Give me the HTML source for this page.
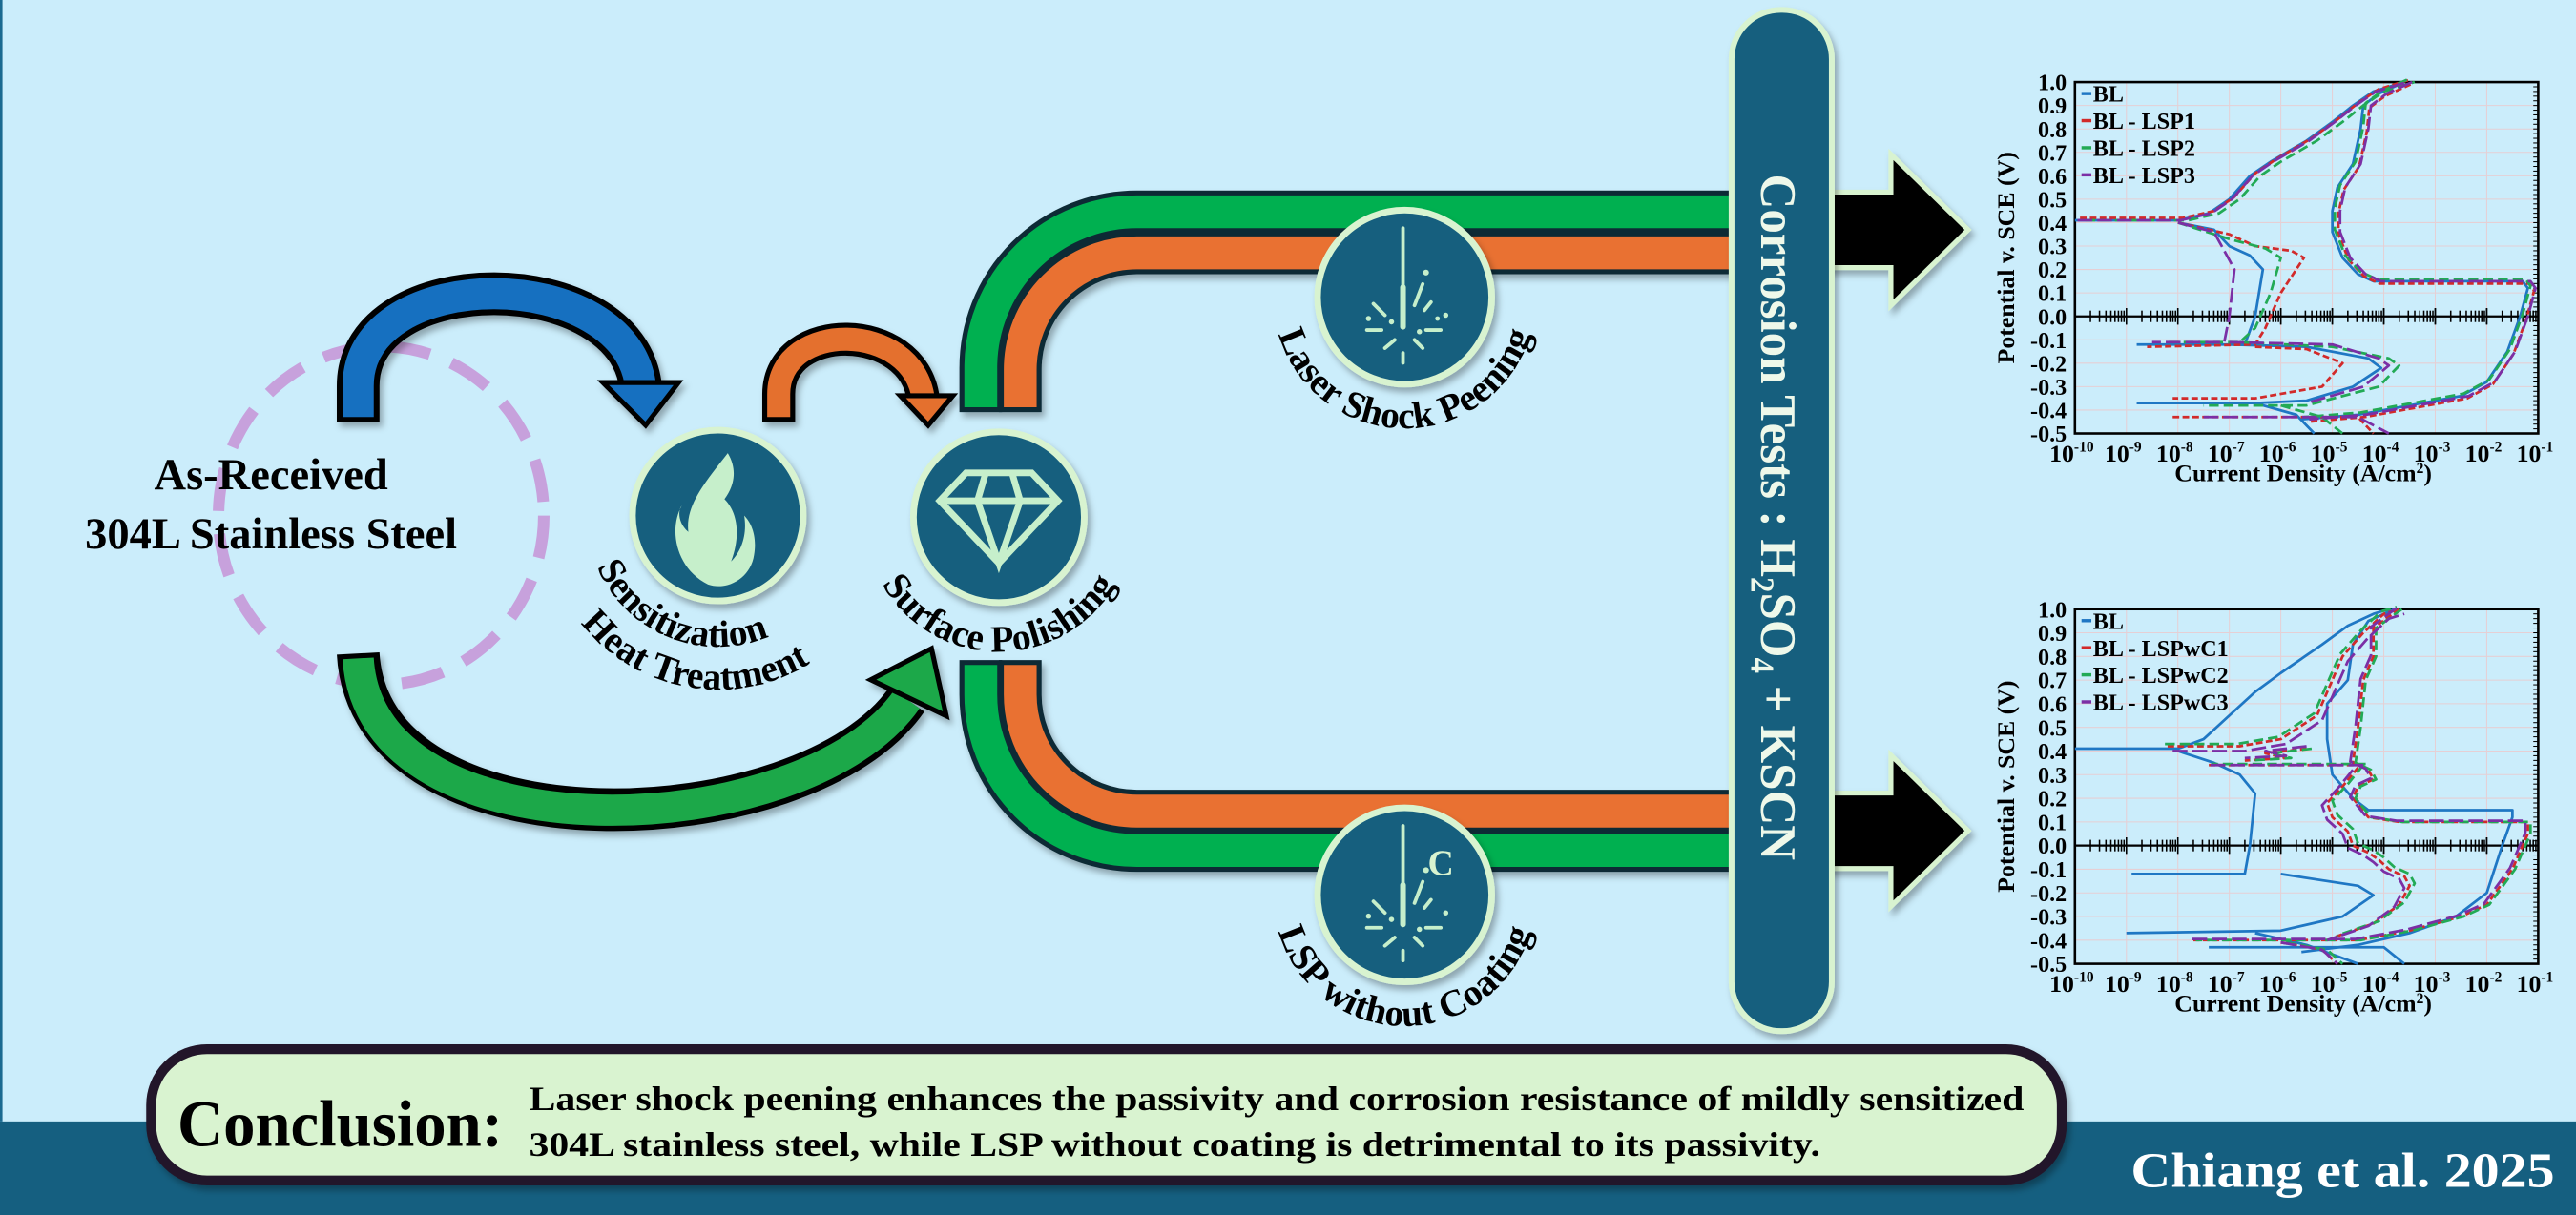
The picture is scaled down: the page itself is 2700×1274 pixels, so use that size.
<!DOCTYPE html>
<html><head><meta charset="utf-8">
<style>
html,body{margin:0;padding:0;background:#cbedfb;}
svg{display:block;}
text{font-family:"Liberation Serif",serif;font-weight:bold;}
</style></head>
<body>
<svg id="s" width="2700" height="1274" viewBox="0 0 1568 740" preserveAspectRatio="none" xmlns="http://www.w3.org/2000/svg">
<defs>
<filter id="sh" x="-20%" y="-20%" width="140%" height="140%"><feDropShadow dx="2" dy="3" stdDeviation="2" flood-color="#000" flood-opacity="0.3"/></filter>
<path id="pSen" d="M361.8,286.6 A80,80 0 1 0 512.2,286.6"/>
<path id="pHeat" d="M337.4,277.7 A106,106 0 1 0 536.6,277.7"/>
<path id="pSurf" d="M530.9,287 A82,82 0 1 0 685.1,287"/>
<path id="pLSP" d="M779.8,153.6 A80,80 0 1 0 930.2,153.6"/>
<path id="pLSPw" d="M779.8,517.6 A80,80 0 1 0 930.2,517.6"/>
</defs>
<rect x="0" y="0" width="1568" height="740" fill="#cbedfb"/>
<rect x="0" y="683" width="1568" height="57" fill="#155f80"/>
<rect x="0" y="0" width="1.5" height="683" fill="#1b6a90"/>

<ellipse cx="232" cy="314" rx="99" ry="103" fill="none" stroke="#c7a1dc" stroke-width="7" stroke-dasharray="26 14"/>
<text x="165" y="298" font-size="27" text-anchor="middle">As-Received</text>
<text x="165" y="334" font-size="27" text-anchor="middle">304L Stainless Steel</text>

<g filter="url(#sh)">
<path d="M218,257 L218,235 C218,160 382,160 390,236" fill="none" stroke="#000" stroke-width="26"/>
<path d="M218,254 L218,235 C218,160 382,160 390,236" fill="none" stroke="#1570c0" stroke-width="19"/>
<polygon points="367,233 413,233 393,259" fill="#1570c0" stroke="#000" stroke-width="3"/>
</g>
<g filter="url(#sh)">
<path d="M474,257 L474,240 C474,195 556,195 562,243" fill="none" stroke="#000" stroke-width="20"/>
<path d="M474,254 L474,240 C474,195 556,195 562,243" fill="none" stroke="#e4702e" stroke-width="14"/>
<polygon points="548,241 580,241 565,259" fill="#e4702e" stroke="#000" stroke-width="3"/>
</g>
<g filter="url(#sh)">
<path d="M218,398 C225,525 490,515 552,426" fill="none" stroke="#000" stroke-width="26"/>
<path d="M218,401 C225,525 490,515 552,426" fill="none" stroke="#1fa84a" stroke-width="19"/>
<polygon points="530,414 576,436 567,395" fill="#1fa84a" stroke="#000" stroke-width="3"/>
</g>

<g filter="url(#sh)">
<path d="M597,251 V224 A95,95 0 0 1 692,129 H1060" fill="none" stroke="#0f2a35" stroke-width="26"/>
<path d="M621,251 V225 A71,71 0 0 1 692,154 H1060" fill="none" stroke="#0f2a35" stroke-width="26"/>
<path d="M597,402 V423 A95,95 0 0 0 692,518 H1060" fill="none" stroke="#0f2a35" stroke-width="26"/>
<path d="M621,402 V423 A71,71 0 0 0 692,494 H1060" fill="none" stroke="#0f2a35" stroke-width="26"/>
</g>
<path d="M597,248 V224 A95,95 0 0 1 692,129 H1060" fill="none" stroke="#00b050" stroke-width="20"/>
<path d="M621,248 V225 A71,71 0 0 1 692,154 H1060" fill="none" stroke="#e97132" stroke-width="20"/>
<path d="M597,405 V423 A95,95 0 0 0 692,518 H1060" fill="none" stroke="#00b050" stroke-width="20"/>
<path d="M621,405 V423 A71,71 0 0 0 692,494 H1060" fill="none" stroke="#e97132" stroke-width="20"/>

<g filter="url(#sh)">
<circle cx="437" cy="314" r="52" fill="#165e7e" stroke="#d8f3d0" stroke-width="4"/>
<path transform="translate(437,316)" d="M6,-40 C-8,-22 -20,-8 -18,8 C-25,2 -24,-6 -22,-8 C-30,6 -26,30 -6,40 C6,44 20,36 22,22 C24,10 20,2 16,-2 C18,10 14,20 8,26 C14,10 12,-4 4,-12 C10,-20 12,-30 6,-40 Z" fill="#c6efcb"/>
</g>
<g filter="url(#sh)">
<circle cx="608" cy="315" r="52" fill="#165e7e" stroke="#d8f3d0" stroke-width="4"/>
<g transform="translate(608,313)" fill="none" stroke="#c6efcb" stroke-width="4">
<polygon points="-20,-25 20,-25 36,-8 0,30 -36,-8"/>
<path d="M-36,-8 H36 M-8,-25 L-13,-8 L0,30 L13,-8 L8,-25"/>
</g>
</g>
<text font-size="23"><textPath href="#pSen" startOffset="40%" text-anchor="middle">Sensitization</textPath></text>
<text font-size="23"><textPath href="#pHeat" startOffset="45.5%" text-anchor="middle">Heat Treatment</textPath></text>
<text font-size="23"><textPath href="#pSurf" startOffset="50%" text-anchor="middle">Surface Polishing</textPath></text>

<g filter="url(#sh)">
<circle cx="855" cy="181" r="53" fill="#165e7e" stroke="#d8f3d0" stroke-width="4"/>
</g>
<g transform="translate(855,181)" stroke="#c6efcb" stroke-width="2.2" stroke-linecap="round" fill="#c6efcb">
<line x1="-1" y1="-42" x2="-1" y2="18"/>
<line x1="-1" y1="-6" x2="-1" y2="18" stroke-width="3.5"/>
<circle cx="13" cy="-15" r="1.8" stroke="none"/>
<line x1="11" y1="-8" x2="6" y2="5"/><line x1="-19" y1="4" x2="-12" y2="11"/>
<line x1="16" y1="3" x2="12" y2="8"/><line x1="-23" y1="20" x2="-14" y2="20"/>
<line x1="13" y1="20" x2="22" y2="20"/><line x1="-12" y1="31" x2="-6" y2="26"/>
<line x1="-1" y1="34" x2="-1" y2="40"/><line x1="6" y1="26" x2="11" y2="31"/>
<circle cx="-22" cy="13" r="1.6" stroke="none"/><circle cx="-8" cy="15" r="1.6" stroke="none"/>
<circle cx="25" cy="11" r="1.6" stroke="none"/><circle cx="9" cy="21" r="1.6" stroke="none"/>
<circle cx="20" cy="13" r="1.4" stroke="none"/>
</g>
<g filter="url(#sh)">
<circle cx="855" cy="545" r="53" fill="#165e7e" stroke="#d8f3d0" stroke-width="4"/>
</g>
<g transform="translate(855,545)" stroke="#c6efcb" stroke-width="2.2" stroke-linecap="round" fill="#c6efcb">
<line x1="-1" y1="-42" x2="-1" y2="18"/>
<line x1="-1" y1="-6" x2="-1" y2="18" stroke-width="3.5"/>
<circle cx="13" cy="-15" r="1.8" stroke="none"/>
<line x1="11" y1="-8" x2="6" y2="5"/><line x1="-19" y1="4" x2="-12" y2="11"/>
<line x1="16" y1="3" x2="12" y2="8"/><line x1="-23" y1="20" x2="-14" y2="20"/>
<line x1="13" y1="20" x2="22" y2="20"/><line x1="-12" y1="31" x2="-6" y2="26"/>
<line x1="-1" y1="34" x2="-1" y2="40"/><line x1="6" y1="26" x2="11" y2="31"/>
<circle cx="-22" cy="13" r="1.6" stroke="none"/><circle cx="-8" cy="15" r="1.6" stroke="none"/>
<circle cx="25" cy="11" r="1.6" stroke="none"/><circle cx="9" cy="21" r="1.6" stroke="none"/>
<text x="22" y="-12" font-size="22" text-anchor="middle" stroke="none" fill="#d8f3d0">C</text>
</g>
<text font-size="23"><textPath href="#pLSP" startOffset="50%" text-anchor="middle">Laser Shock Peening</textPath></text>
<text font-size="23"><textPath href="#pLSPw" startOffset="50%" text-anchor="middle">LSP without Coating</textPath></text>

<polygon points="1112,117 1151,117 1151,94 1198,140 1151,186 1151,163 1112,163" fill="#000" stroke="#d8f3d0" stroke-width="3" filter="url(#sh)"/>
<polygon points="1112,483 1151,483 1151,460 1198,506 1151,552 1151,529 1112,529" fill="#000" stroke="#d8f3d0" stroke-width="3" filter="url(#sh)"/>

<rect x="1054" y="6" width="61" height="622" rx="30" fill="#165e7e" stroke="#d8f3d0" stroke-width="3.5" filter="url(#sh)"/>
<text transform="translate(1072,315) rotate(90)" font-size="31" fill="#eef8ea" text-anchor="middle" textLength="418" lengthAdjust="spacingAndGlyphs">Corrosion Tests : H<tspan font-size="20" dy="6">2</tspan><tspan dy="-6">SO</tspan><tspan font-size="20" dy="6">4</tspan><tspan dy="-6"> + KSCN</tspan></text>

<g id="c1"></g>
<g id="c2"></g>

<rect x="92" y="639" width="1163" height="80" rx="34" fill="#d9f3d0" stroke="#24192a" stroke-width="6" filter="url(#sh)"/>
<text x="108" y="698" font-size="40" textLength="198" lengthAdjust="spacingAndGlyphs">Conclusion:</text>
<text x="322" y="676" font-size="21" textLength="910" lengthAdjust="spacingAndGlyphs">Laser shock peening enhances the passivity and corrosion resistance of mildly sensitized</text>
<text x="322" y="704" font-size="21" textLength="786" lengthAdjust="spacingAndGlyphs">304L stainless steel, while LSP without coating is detrimental to its passivity.</text>
<text x="1555" y="723" font-size="30" fill="#fff" text-anchor="end" textLength="258" lengthAdjust="spacingAndGlyphs">Chiang et al. 2025</text>
</svg>
<script>
(function(){
var NS="http://www.w3.org/2000/svg";
function el(p,n,a,t){var e=document.createElementNS(NS,n);for(var k in a)e.setAttribute(k,a[k]);if(t!=null)e.textContent=t;p.appendChild(e);return e;}
function chart(g,top,bot,legend,series){
  var L=1263,R=1545,dec=(R-L)/9;
  var X=function(d){return L+(d+10)*dec;};
  var Y=function(v){return top+(1-v)*(bot-top)/1.5;};
  for(var i=1;i<9;i++)el(g,"line",{x1:X(-10+i),x2:X(-10+i),y1:top,y2:bot,stroke:"#e6cfd4","stroke-width":0.6});
  for(var v=-0.4;v<1.0;v+=0.1)el(g,"line",{x1:L,x2:R,y1:Y(v),y2:Y(v),stroke:"#e6cfd4","stroke-width":0.6});
  for(var k=0;k<=75;k++){var yy=top+k*(bot-top)/75;el(g,"line",{x1:R-3,x2:R,y1:yy,y2:yy,stroke:"#000","stroke-width":0.6});}
  el(g,"rect",{x:L,y:top,width:R-L,height:bot-top,fill:"none",stroke:"#000","stroke-width":1.5});
  var y0=Y(0);
  el(g,"line",{x1:L,x2:R,y1:y0,y2:y0,stroke:"#000","stroke-width":1.3});
  for(var d=-10;d<-1;d++){for(var m=1;m<=10;m++){var xx=X(d+Math.log10(m));var h=(m==1||m==10)?5:3.5;el(g,"line",{x1:xx,x2:xx,y1:y0-h,y2:y0+h,stroke:"#000","stroke-width":0.9});}}
  var labs=["1.0","0.9","0.8","0.7","0.6","0.5","0.4","0.3","0.2","0.1","0.0","-0.1","-0.2","-0.3","-0.4","-0.5"];
  for(var j=0;j<labs.length;j++){el(g,"text",{x:L-5,y:Y(1-j*0.1)+5,"font-size":14,"text-anchor":"end"},labs[j]);}
  for(var d2=-10;d2<=-1;d2++){var t=el(g,"text",{x:X(d2)-2,y:bot+17,"font-size":15,"text-anchor":"middle"},"10");el(t,"tspan",{dy:-6,"font-size":9},String(d2));}
  var tt=el(g,"text",{x:1402,y:bot+29,"font-size":15,"text-anchor":"middle"},"Current Density (A/cm");
  el(tt,"tspan",{dy:-5,"font-size":9},"2");el(tt,"tspan",{dy:5},")");
  el(g,"text",{transform:"translate(1226,"+((top+bot)/2)+") rotate(-90)","font-size":15,"text-anchor":"middle"},"Potential v. SCE (V)");
  series.forEach(function(s){
    s.paths.forEach(function(p){
      var d="";for(var q=0;q<p.length;q+=2){d+=(q?"L":"M")+X(p[q]).toFixed(1)+","+Y(p[q+1]).toFixed(1);}
      var a={d:d,fill:"none",stroke:s.c,"stroke-width":1.6,"stroke-linejoin":"round"};if(s.da)a["stroke-dasharray"]=s.da;
      el(g,"path",a);
    });
  });
  legend.forEach(function(l,i){
    var yy=top+12+i*16.5;
    el(g,"line",{x1:L+4,x2:L+10,y1:yy-5,y2:yy-5,stroke:series[i].c,"stroke-width":2});
    el(g,"text",{x:L+11,y:yy,"font-size":14},l);
  });
}
function sh(p,dx,dv){var o=[];for(var i=0;i<p.length;i+=2){o.push(p[i]+dx,p[i+1]+(dv||0));}return o;}
var A=[-10,0.41,-8,0.41,-7.4,0.44,-7,0.5,-6.6,0.6,-6.2,0.66,-5.5,0.75,-5,0.83,-4.6,0.9,-4.2,0.96,-3.6,1.0];
var B=[-3.6,1.0,-4.1,0.95,-4.4,0.9,-4.45,0.8,-4.6,0.65,-4.9,0.55,-5,0.45,-5,0.36,-4.8,0.25,-4.5,0.18,-4.2,0.15,-1.3,0.15,-1.2,0.12,-1.35,0,-1.6,-0.15,-2,-0.28,-2.5,-0.34,-3.5,-0.38,-4.5,-0.42,-5.6,-0.44];
var s1=[
 {c:"#1f77c4",paths:[A,B,[-8,0.40,-7.3,0.37,-7,0.3,-6.6,0.26,-6.35,0.2,-6.5,0,-6.7,-0.12,-8.8,-0.12],[-7,-0.12,-5.5,-0.13,-4.3,-0.18,-4.05,-0.22,-4.6,-0.3,-5.5,-0.36,-6.5,-0.37,-8.8,-0.37],[-6.5,-0.37,-5.7,-0.42,-5.35,-0.5]]},
 {c:"#d22a2a",da:"4 2",paths:[sh(A,0.1,0.01),sh(B,0.12,-0.01),[-8,0.4,-7,0.35,-6.5,0.3,-5.8,0.28,-5.55,0.25,-6,0.1,-6.3,-0.05,-6.5,-0.12,-8.6,-0.13],[-6.5,-0.13,-5.5,-0.14,-4.8,-0.2,-5.2,-0.3,-6.5,-0.35,-8.1,-0.35],[-8.1,-0.43,-4.5,-0.43,-4.2,-0.5]]},
 {c:"#22aa55",da:"6 3",paths:[sh(A,0.2,0),sh(B,0.05,0.01),[-8,0.4,-7,0.33,-6.3,0.29,-6,0.25,-6.2,0.1,-6.5,-0.05,-6.8,-0.11,-8.2,-0.11],[-6.8,-0.11,-5,-0.13,-3.9,-0.18,-3.7,-0.21,-4.1,-0.3,-5.5,-0.38,-7.5,-0.38],[-6,-0.38,-5.2,-0.43,-4.8,-0.5]]},
 {c:"#7b2fa5",da:"9 3",paths:[sh(A,0.05,0),sh(B,0.15,0),[-8,0.4,-7.3,0.36,-7.1,0.28,-6.9,0.2,-7,0,-7.1,-0.11,-8.5,-0.11],[-7,-0.11,-5,-0.12,-4.1,-0.18,-3.9,-0.21,-4.4,-0.3,-5.5,-0.37],[-7.5,-0.43,-4.5,-0.43,-3.9,-0.5]]}
];
var A2=[-10,0.41,-8,0.41,-7.5,0.45,-7,0.55,-6.5,0.65,-6,0.73,-5.2,0.85,-4.7,0.93,-4.2,0.98,-3.9,1.0];
var B2=[-3.8,1.0,-4.3,0.95,-4.6,0.85,-4.7,0.7,-5.1,0.6,-5.1,0.45,-5,0.3,-4.6,0.2,-4.3,0.15,-1.5,0.15,-1.5,0.12,-1.7,0,-2,-0.2,-2.6,-0.3,-3.5,-0.37,-4.5,-0.42,-5.6,-0.45];
var O1=[-8.2,0.42,-6.8,0.42,-6,0.45,-5.3,0.55,-5,0.7,-4.8,0.8,-4.4,0.9,-4,0.98,-3.7,1.0];
var O2=[-3.7,1,-4.2,0.92,-4.2,0.8,-4.4,0.7,-4.5,0.5,-4.6,0.35,-4.3,0.32,-4.2,0.28,-4.5,0.25,-4.6,0.2,-4.3,0.12,-3.7,0.1,-1.2,0.1,-1.2,0.05,-1.5,-0.1,-2,-0.25,-2.5,-0.3,-3.5,-0.36,-4.5,-0.4,-7.7,-0.4];
var O3=[-4.4,0.34,-7.4,0.34];
var O4=[-4.5,0.33,-4.8,0.25,-5.1,0.18,-5,0.12,-4.7,0.06,-4.6,0.0,-4.3,-0.03,-4.1,-0.06,-3.9,-0.1,-3.6,-0.13,-3.5,-0.17,-3.7,-0.25,-4.2,-0.33,-5,-0.39];
var O5=[-5.5,0.41,-6.3,0.39,-5.9,0.37,-6.7,0.36];
var O6=[-6,-0.41,-5.2,-0.44,-4.9,-0.5];
var s2=[
 {c:"#1f77c4",paths:[A2,B2,[-8,0.4,-7.3,0.35,-6.8,0.3,-6.5,0.22,-6.6,0,-6.7,-0.12,-8.9,-0.12],[-6,-0.12,-4.5,-0.17,-4.2,-0.21,-4.8,-0.3,-6,-0.36,-9,-0.37],[-6.5,-0.37,-5.5,-0.42,-4.5,-0.5],[-7.4,-0.43,-4,-0.43,-3.6,-0.5]]},
 {c:"#d22a2a",da:"4 2",paths:[O1,O2,O3,O4,O5,O6]},
 {c:"#22aa55",da:"6 3",paths:[sh(O1,-0.05,0.01),sh(O2,0.05,0),sh(O3,0.05,0.005),sh(O4,0.1,0.01),sh(O5,0.1,0),sh(O6,0.1,0)]},
 {c:"#7b2fa5",da:"9 3",paths:[sh(O1,0.1,-0.02),sh(O2,-0.05,0.005),sh(O3,0,0),sh(O4,-0.1,-0.01),sh(O5,0,0.01),sh(O6,0,0)]}
];
chart(document.getElementById("c1"),50,264,["BL","BL - LSP1","BL - LSP2","BL - LSP3"],s1);
chart(document.getElementById("c2"),371,587,["BL","BL - LSPwC1","BL - LSPwC2","BL - LSPwC3"],s2);
})();
</script>
</body></html>
